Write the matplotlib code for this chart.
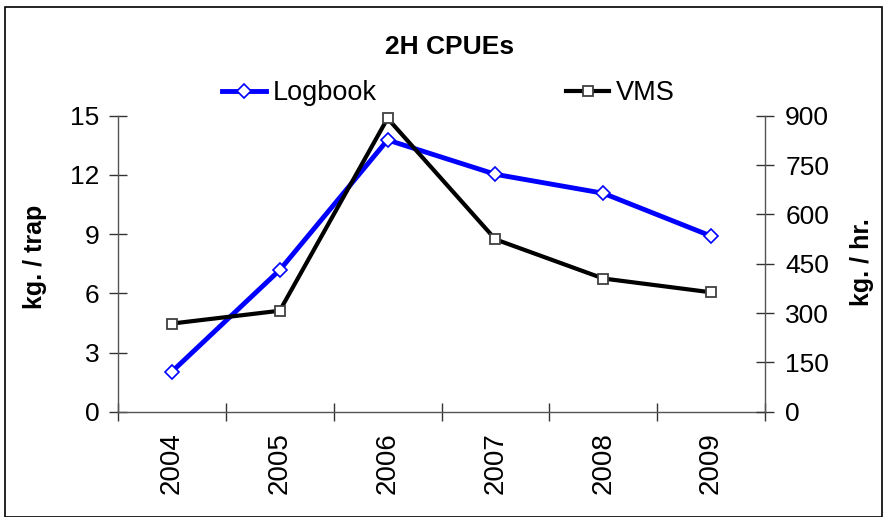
import numpy as np
import matplotlib
matplotlib.use('Agg')
import matplotlib.pyplot as plt
from matplotlib.patches import Rectangle

plt.rcParams['font.family'] = ['Liberation Sans', 'DejaVu Sans']

years = ['2004', '2005', '2006', '2007', '2008', '2009']
logbook = [2.03, 7.18, 13.77, 12.03, 11.07, 8.9]   # kg / trap
vms = [268, 307, 892, 524, 405, 363]              # kg / hr

W, H = 883, 517
fig = plt.figure(figsize=(W / 100, H / 100), dpi=100)
fig.patches.append(Rectangle((5/W, 0), 1 - 6/W, 1 - 7/H, transform=fig.transFigure,
                             fill=False, edgecolor='black', linewidth=1.2))
ax = fig.add_axes([118/W, 1 - 411.7/H, (765 - 118)/W, (411.7 - 115.7)/H])
ax2 = ax.twinx()

x = np.arange(len(years))
l1, = ax.plot(x, logbook, color='#0000ff', lw=3.5, marker='D', ms=7,
              mfc='white', mec='#0000ff', mew=1.2, label='Logbook', zorder=3, clip_on=False)
l2, = ax2.plot(x, vms, color='black', lw=3, marker='s', ms=7.5,
               mfc='white', mec='#404040', mew=1.3, label='VMS', zorder=3, clip_on=False)

ax.set_xlim(-0.5, len(years) - 0.5)
ax.set_ylim(0, 15)
ax2.set_ylim(0, 900)
ax.set_yticks([0, 3, 6, 9, 12, 15])
ax2.set_yticks([0, 150, 300, 450, 600, 750, 900])

ax.set_xticks(np.arange(len(years) + 1) - 0.5)
ax.set_xticklabels([])
ax.set_xticks(x, minor=True)
ax.set_xticklabels(years, minor=True, rotation=90, fontsize=20)
ax.tick_params(axis='x', which='minor', length=0, pad=15)
ax.tick_params(axis='x', which='major', direction='inout', length=13, width=1, color='#333333')

ax.tick_params(axis='y', direction='inout', length=13, width=1, labelsize=19, pad=7, color='#333333')
ax2.tick_params(axis='y', direction='inout', length=13, width=1, labelsize=19, pad=8, color='#333333')

for a in (ax, ax2):
    a.spines['top'].set_visible(False)
    for s in ('left', 'right', 'bottom'):
        a.spines[s].set_color('#555555')
        a.spines[s].set_linewidth(1)
ax.spines['right'].set_visible(False)
ax2.spines['left'].set_visible(False)
ax2.spines['bottom'].set_visible(False)

fig.text(35/W, 1 - 257/H, 'kg. / trap', rotation=90, ha='center', va='center',
         fontsize=18, fontweight='bold')
fig.text(862/W, 1 - 262/H, 'kg. / hr.', rotation=90, ha='center', va='center',
         fontsize=18, fontweight='bold')

fig.text(450/W, 1 - 47.5/H, '2H CPUEs', ha='center', va='center', fontsize=19, fontweight='bold')
fig.legend([l1, l2], ['Logbook', 'VMS'], loc='center', bbox_to_anchor=(448.5/W, 1 - 93/H),
           ncol=2, frameon=False, fontsize=19.5, handlelength=1.6, handletextpad=0.25,
           columnspacing=7.0, borderpad=0, borderaxespad=0)

fig.savefig('out.png', dpi=100)
